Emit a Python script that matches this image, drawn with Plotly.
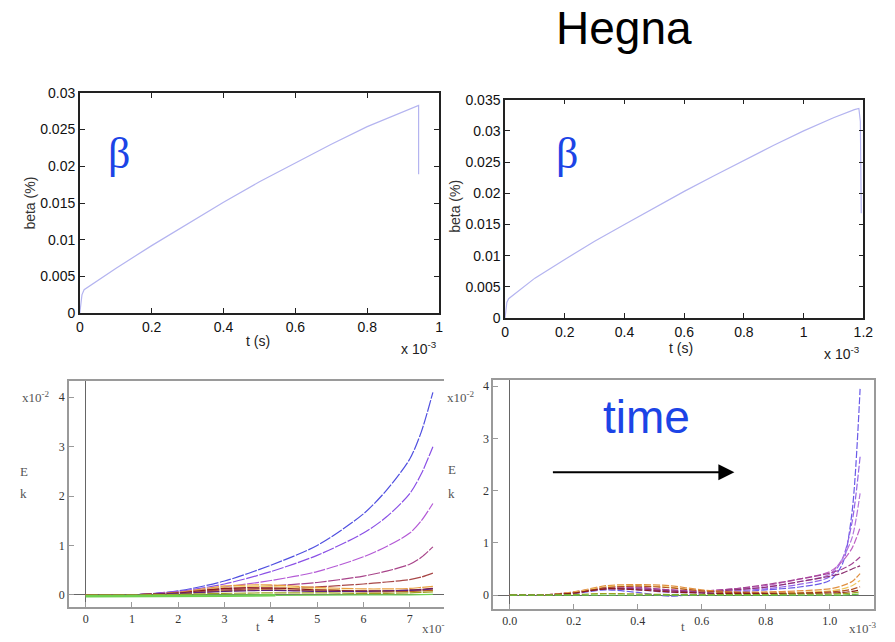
import plotly.graph_objects as go

W, H = 895, 642

# ---- top row: beta (%) versus t (units of 1e-3 s) ----
tl_t = [0, 0.006, 0.012, 0.1, 0.2, 0.3, 0.4, 0.5, 0.6, 0.7, 0.8, 0.9, 0.94, 0.943, 0.943]
tl_beta = [0, 0.0025, 0.0032, 0.0061, 0.0092, 0.0122, 0.0151, 0.0179, 0.0205, 0.0230, 0.0254, 0.0275, 0.0283, 0.0283, 0.0189]

tr_t = [0, 0.006, 0.012, 0.1, 0.2, 0.3, 0.4, 0.5, 0.6, 0.7, 0.8, 0.9, 1.0, 1.1, 1.17, 1.185, 1.19, 1.193]
tr_beta = [0, 0.0025, 0.0031, 0.0064, 0.0094, 0.0123, 0.0150, 0.0177, 0.0203, 0.0228, 0.0253, 0.0277,
           0.0300, 0.0321, 0.0334, 0.0336, 0.0315, 0.0168]

tl_xticks = [0, 0.2, 0.4, 0.6, 0.8, 1.0]
tl_xtext = ["0", "0.2", "0.4", "0.6", "0.8", "1"]
tl_yticks = [0, 0.005, 0.01, 0.015, 0.02, 0.025, 0.03]
tl_ytext = ["0", "0.005", "0.01", "0.015", "0.02", "0.025", "0.03"]

tr_xticks = [0, 0.2, 0.4, 0.6, 0.8, 1.0, 1.2]
tr_xtext = ["0", "0.2", "0.4", "0.6", "0.8", "1", "1.2"]
tr_yticks = [0, 0.005, 0.01, 0.015, 0.02, 0.025, 0.03, 0.035]
tr_ytext = ["0", "0.005", "0.01", "0.015", "0.02", "0.025", "0.03", "0.035"]

# ---- bottom-left: mode energies E_k (x1e-2) versus t ----
bl_t = [0, 1, 2, 3, 4, 5, 6, 6.5, 7, 7.25, 7.5]
bl_series = {
    "#5050e0": [0, 0, 0.08, 0.28, 0.6, 1.0, 1.64, 2.12, 2.75, 3.3, 4.1],
    "#8a50e6": [0, 0, 0.07, 0.22, 0.47, 0.8, 1.25, 1.58, 2.05, 2.45, 3.0],
    "#b45ad6": [0, 0, 0.06, 0.16, 0.29, 0.47, 0.77, 0.98, 1.25, 1.5, 1.85],
    "#a8448a": [0, 0, 0.05, 0.12, 0.18, 0.25, 0.38, 0.48, 0.62, 0.76, 0.97],
    "#a84848": [0, 0, 0.04, 0.1, 0.13, 0.16, 0.22, 0.26, 0.31, 0.36, 0.44],
    "#e8a040": [0, 0, 0.05, 0.18, 0.2, 0.15, 0.12, 0.12, 0.13, 0.15, 0.17],
    "#f0d070": [0, 0, 0.03, 0.15, 0.17, 0.12, 0.08, 0.07, 0.08, 0.09, 0.1],
    "#8b1a1a": [0, 0, 0.04, 0.13, 0.14, 0.1, 0.08, 0.08, 0.1, 0.11, 0.13],
    "#b86020": [0, 0, 0.02, 0.08, 0.1, 0.08, 0.06, 0.06, 0.07, 0.08, 0.09],
    "#602080": [0, 0, 0.03, 0.07, 0.09, 0.07, 0.07, 0.08, 0.09, 0.1, 0.12],
    "#a0a020": [0, 0, 0.01, 0.03, 0.04, 0.04, 0.03, 0.03, 0.04, 0.05, 0.06],
}
bl_green_t = [0, 1, 2, 3, 4.1]
bl_green = [-0.03, -0.03, -0.02, -0.02, -0.01]
bl_green_tail_t = [4.1, 5, 6, 7, 7.5]
bl_green_tail = [-0.01, 0, 0, 0, 0.01]

bl_xticks = [0, 1, 2, 3, 4, 5, 6, 7]
bl_xtext = ["0", "1", "2", "3", "4", "5", "6", "7"]
b_yticks = [0, 1, 2, 3, 4]
b_ytext = ["0", "1", "2", "3", "4"]

# ---- bottom-right: mode energies E_k (x1e-2) versus t (x1e-3) ----
br_t = [0, 0.1, 0.2, 0.3, 0.4, 0.5, 0.6, 0.7, 0.8, 0.9, 1.0, 1.04, 1.07, 1.095]
br_series = {
    "#6a5ae8": [0, 0, 0.03, 0.1, 0.05, -0.02, 0.02, 0.05, 0.1, 0.15, 0.28, 0.6, 1.6, 3.95],
    "#9464e6": [0, 0, 0.05, 0.12, 0.1, 0.05, 0.05, 0.08, 0.12, 0.2, 0.35, 0.7, 1.4, 2.65],
    "#b474dc": [0, 0, 0.05, 0.12, 0.12, 0.08, 0.06, 0.1, 0.15, 0.25, 0.4, 0.7, 1.1, 1.95],
    "#c064c4": [0, 0, 0.06, 0.15, 0.14, 0.1, 0.08, 0.12, 0.18, 0.3, 0.45, 0.65, 0.9, 1.29],
    "#a44494": [0, 0, 0.05, 0.15, 0.15, 0.1, 0.08, 0.12, 0.2, 0.3, 0.42, 0.5, 0.6, 0.73],
    "#8b3070": [0, 0, 0.04, 0.12, 0.12, 0.08, 0.06, 0.1, 0.15, 0.25, 0.36, 0.42, 0.5, 0.56],
    "#e09040": [0, 0, 0.06, 0.18, 0.2, 0.18, 0.1, 0.06, 0.06, 0.08, 0.12, 0.18, 0.26, 0.41],
    "#f0c860": [0, 0, 0.05, 0.16, 0.18, 0.15, 0.08, 0.04, 0.04, 0.05, 0.08, 0.12, 0.18, 0.28],
    "#b05020": [0, 0, 0.04, 0.14, 0.17, 0.14, 0.08, 0.05, 0.04, 0.04, 0.06, 0.08, 0.11, 0.16],
    "#8b1a1a": [0, 0, 0.04, 0.12, 0.1, 0.06, 0.04, 0.03, 0.03, 0.03, 0.04, 0.05, 0.07, 0.1],
    "#a0a020": [0, 0, 0.01, 0.03, 0.02, 0.01, 0.01, 0.01, 0.01, 0.02, 0.02, 0.03, 0.04, 0.06],
    "#60c040": [0, 0, 0, 0, 0, 0, 0, 0, 0, 0, 0, 0, 0.01, 0.02],
}
br_xticks = [0, 0.2, 0.4, 0.6, 0.8, 1.0]
br_xtext = ["0.0", "0.2", "0.4", "0.6", "0.8", "1.0"]


def px_x(p):
    return p / W


def px_y(p):
    return 1 - p / H


fig = go.Figure()

beta_color = "#b4b4f0"
fig.add_trace(go.Scatter(x=tl_t, y=tl_beta, mode="lines", xaxis="x", yaxis="y",
                         line=dict(color=beta_color, width=1.2), showlegend=False))
fig.add_trace(go.Scatter(x=tr_t, y=tr_beta, mode="lines", xaxis="x2", yaxis="y2",
                         line=dict(color=beta_color, width=1.2), showlegend=False))

for col, vals in bl_series.items():
    fig.add_trace(go.Scatter(x=bl_t, y=vals, mode="lines", xaxis="x3", yaxis="y3",
                             line=dict(color=col, width=1.2, shape="spline", smoothing=0.8,
                                       dash="12px,1.5px"),
                             showlegend=False))
fig.add_trace(go.Scatter(x=bl_green_t, y=bl_green, mode="lines", xaxis="x3", yaxis="y3",
                         line=dict(color="#70d050", width=2.5), showlegend=False))
fig.add_trace(go.Scatter(x=bl_green_tail_t, y=bl_green_tail, mode="lines", xaxis="x3", yaxis="y3",
                         line=dict(color="#70d050", width=1.2), showlegend=False))

for col, vals in br_series.items():
    fig.add_trace(go.Scatter(x=br_t, y=vals, mode="lines", xaxis="x4", yaxis="y4",
                             line=dict(color=col, width=1.2, shape="spline", smoothing=0.8,
                                       dash="7px,2px"),
                             showlegend=False))

sans = "Liberation Sans, Arial, sans-serif"
serif = "Liberation Serif, Times New Roman, serif"
top_tick_font = dict(family=sans, size=14, color="#111")
bot_tick_font = dict(family=serif, size=12, color="#333")


def top_axis(domain, anchor, rng, tickvals, ticktext):
    return dict(domain=domain, anchor=anchor, range=rng, tickvals=tickvals, ticktext=ticktext,
                showline=True, linecolor="#222", linewidth=1.5, mirror="ticks",
                ticks="inside", ticklen=5, tickcolor="#222", tickwidth=1.3,
                showgrid=False, zeroline=False, tickfont=top_tick_font)


def bottom_axis(domain, anchor, rng, tickvals, ticktext, mirror=True):
    return dict(domain=domain, anchor=anchor, range=rng, tickvals=tickvals, ticktext=ticktext,
                showline=True, linecolor="#9a9a9a", linewidth=1.5, mirror=mirror,
                ticks="inside", ticklen=5, tickcolor="#9a9a9a", tickwidth=1,
                showgrid=False, zeroline=True, zerolinecolor="#666", zerolinewidth=1,
                tickfont=bot_tick_font)


layout = dict(
    width=W, height=H, margin=dict(l=0, r=0, t=0, b=0),
    paper_bgcolor="white", plot_bgcolor="white", showlegend=False,
    xaxis=top_axis([px_x(77), px_x(442)], "y", [0, 1.0], tl_xticks, tl_xtext),
    yaxis=top_axis([px_y(313), px_y(87)], "x", [0, 0.03], tl_yticks, tl_ytext),
    xaxis2=top_axis([px_x(509), px_x(873)], "y2", [0, 1.2], tr_xticks, tr_xtext),
    yaxis2=top_axis([px_y(318), px_y(94)], "x2", [0, 0.035], tr_yticks, tr_ytext),
    xaxis3=bottom_axis([px_x(66), px_x(447)], "y3", [-0.36, 7.74], bl_xticks, bl_xtext),
    yaxis3=bottom_axis([px_y(614), px_y(383)], "x3", [-0.24, 4.32], b_yticks, b_ytext, mirror=False),
    xaxis4=bottom_axis([px_x(497), px_x(884)], "y4", [-0.052, 1.139], br_xticks, br_xtext),
    yaxis4=bottom_axis([px_y(616), px_y(381)], "x4", [-0.26, 4.13], b_yticks, b_ytext),
)
fig.update_layout(**layout)


def note(x, y, text, size, family=sans, color="#222", angle=0, **kw):
    fig.add_annotation(x=px_x(x), y=px_y(y), xref="paper", yref="paper", text=text,
                       showarrow=False, textangle=angle, xanchor="center", yanchor="middle",
                       font=dict(family=family, size=size, color=color), **kw)


# titles and labels
note(630, 21, "Hegna", 46, color="#000")
note(117, 149, "β", 44, family=serif, color="#1c44e6")
note(572, 149, "β", 44, family=serif, color="#1c44e6")
note(653, 419, "time", 46, color="#1c44e6")

# top row axis labels
note(26, 200, "beta (%)", 14, color="#333", angle=-90)
note(458, 203, "beta (%)", 14, color="#333", angle=-90)
note(258, 342, "t (s)", 14, color="#222")
note(688, 349, "t (s)", 14, color="#222")
note(422, 349, "x 10<sup>-3</sup>", 14, color="#222")
note(851, 354, "x 10<sup>-3</sup>", 14, color="#222")

# bottom row axis labels
note(33, 399, "x10<sup>-2</sup>", 13, family=serif, color="#555")
note(464, 399, "x10<sup>-2</sup>", 13, family=serif, color="#555")
note(20, 475, "E", 13, family=serif, color="#555")
note(20, 498, "k", 13, family=serif, color="#555")
note(455, 473, "E", 13, family=serif, color="#555")
note(455, 498, "k", 13, family=serif, color="#555")
note(258, 634, "t", 13, family=serif, color="#555")
note(690, 634, "t", 13, family=serif, color="#555")
note(436, 636, "x10<sup>-</sup>", 13, family=serif, color="#555")
note(873, 636, "x10<sup>-3</sup>", 13, family=serif, color="#555")

# direction-of-time arrow
fig.add_annotation(x=px_x(742), y=px_y(476), xref="paper", yref="paper",
                   ax=-183, ay=0, text="", showarrow=True,
                   arrowhead=2, arrowsize=1.6, arrowwidth=2, arrowcolor="#000")

fig.write_html("out.html")
